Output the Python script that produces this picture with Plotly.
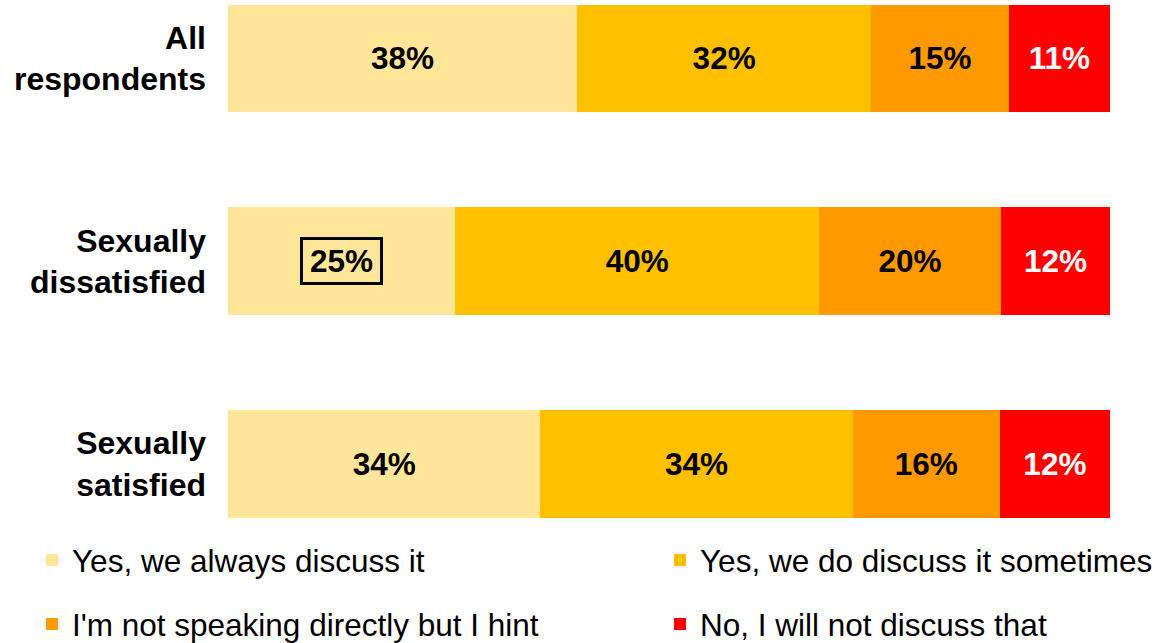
import plotly.graph_objects as go

categories = ["All<br>respondents", "Sexually<br>dissatisfied", "Sexually<br>satisfied"]
series_names = [
    "Yes, we always discuss it",
    "Yes, we do discuss it sometimes",
    "I'm not speaking directly but I hint",
    "No, I will not discuss that",
]
always = [38, 25, 34]
sometimes = [32, 40, 34]
hint = [15, 20, 16]
never = [11, 12, 12]
colors = ["#FFE699", "#FFC000", "#FF9900", "#FF0000"]
text_colors = ["black", "black", "black", "white"]

series = [always, sometimes, hint, never]
legend_ids = ["legend", "legend2", "legend3", "legend4"]

FONT = "Liberation Sans, Arial, sans-serif"
LABEL_SIZE = 31.5

fig = go.Figure()
for i, (name, vals) in enumerate(zip(series_names, series)):
    texts = [f"<b>{v}%</b>" for v in vals]
    if i == 0:
        texts[1] = ""  # drawn as boxed annotation
    fig.add_trace(go.Bar(
        y=categories, x=vals, name=name, orientation="h",
        marker=dict(color=colors[i], line=dict(width=0)),
        text=texts, textposition="inside", insidetextanchor="middle",
        textfont=dict(family=FONT, size=LABEL_SIZE, color=text_colors[i]),
        legend=legend_ids[i], hoverinfo="skip",
    ))

# boxed label for the dissatisfied "always" segment
tot = always[1] + sometimes[1] + hint[1] + never[1]
fig.add_annotation(
    x=always[1] / tot * 100 / 2, y=categories[1], xref="x", yref="y",
    text=f"<b>{always[1]}%</b>", showarrow=False,
    font=dict(family=FONT, size=LABEL_SIZE, color="black"),
    bordercolor="black", borderwidth=3, borderpad=1,
    width=75, height=40,
)

W, H = 1160, 643


def legend_at(px_x, px_y):
    return dict(
        orientation="h", xref="container", yref="container",
        x=px_x / W, y=1 - px_y / H, xanchor="left", yanchor="middle",
        font=dict(family=FONT, size=31.5, color="black"),
        bgcolor="rgba(0,0,0,0)",
    )


fig.update_layout(
    barmode="stack", barnorm="percent", bargap=0.47,
    width=W, height=H,
    margin=dict(l=228, r=50, t=0, b=121),
    plot_bgcolor="white", paper_bgcolor="white",
    font=dict(family=FONT, size=30, color="black"),
    xaxis=dict(visible=False, range=[0, 100]),
    yaxis=dict(
        range=[2.286, -0.288], showgrid=False, zeroline=False, showline=False,
        tickfont=dict(family=FONT, size=32, color="black", weight="bold"),
        ticks="", ticklabelstandoff=21,
    ),
    legend=legend_at(32, 560),
    legend2=legend_at(660, 560),
    legend3=legend_at(32, 624),
    legend4=legend_at(660, 624),
    showlegend=True,
)

fig.write_html("out.html", config={"displayModeBar": False},
               post_script="document.body.style.margin='0';")
